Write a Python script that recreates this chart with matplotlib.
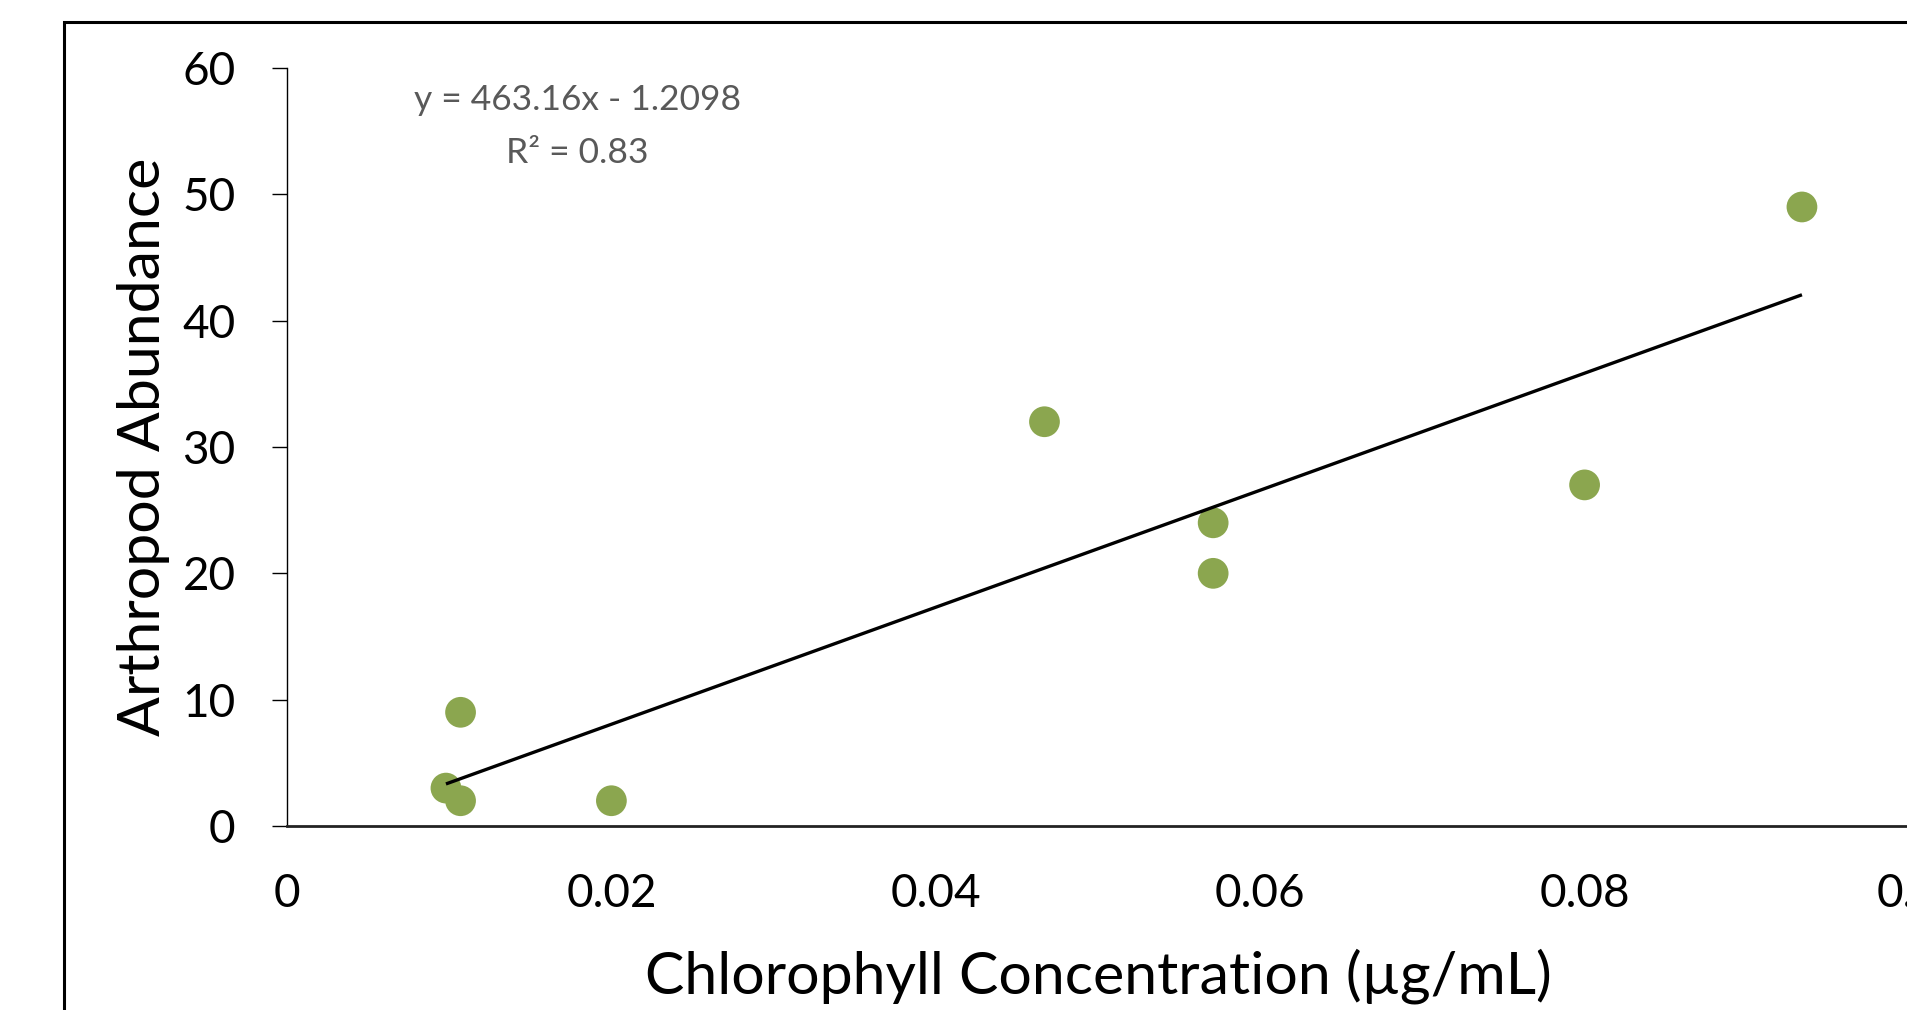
#!/usr/bin/env python3
"""
Scatter of arthropod abundance against chlorophyll concentration, with linear trend line
"""

import matplotlib
matplotlib.use('Agg')
import matplotlib.pyplot as plt
from matplotlib.patches import Rectangle
from matplotlib.ticker import FuncFormatter

# data
chlorophyll = [0.0098, 0.0107, 0.0107, 0.0200, 0.0467, 0.0571, 0.0571, 0.0800, 0.0934]
abundance = [3, 9, 2, 2, 32, 24, 20, 27, 49]
slope = 463.16
intercept = -1.2098
r_squared = 0.83
x_ticks = [0, 0.02, 0.04, 0.06, 0.08, 0.1]
y_ticks = [0, 10, 20, 30, 40, 50, 60]

plt.rcParams['font.family'] = ['Lato', 'DejaVu Sans']

W, H = 1908, 1010
fig = plt.figure(figsize=(W / 100, H / 100), dpi=100)
ax = fig.add_axes([287 / W, 184 / H, 1622 / W, 758 / H])

# outer chart-area border (runs off the right and bottom of the picture)
fig.add_artist(Rectangle((64 / W, -0.2), 2.0, 0.2 + (H - 22) / H,
                         transform=fig.transFigure, fill=False,
                         edgecolor='black', linewidth=2.2))

ax.scatter(chlorophyll, abundance, s=490, color='#8BA64F', edgecolors='none', zorder=2)

# linear trend line over the data range
x0, x1 = min(chlorophyll), max(chlorophyll)
ax.plot([x0, x1], [slope * x0 + intercept, slope * x1 + intercept],
        color='black', linewidth=2.4, zorder=3, solid_capstyle='butt')

ax.text(0.0179, 57.5, f'y = {slope}x - {abs(intercept)}', ha='center', va='center',
        fontsize=25.5, color='#595959')
ax.text(0.0179, 53.3, f'R² = {r_squared}', ha='center', va='center',
        fontsize=25.5, color='#595959')

ax.set_xlim(0, 0.1)
ax.set_ylim(0, 60)
ax.set_xticks(x_ticks)
ax.set_yticks(y_ticks)
ax.xaxis.set_major_formatter(FuncFormatter(lambda v, p: f'{v:g}'))

ax.spines['top'].set_visible(False)
ax.spines['right'].set_visible(False)
ax.spines['left'].set_linewidth(1.0)
ax.spines['bottom'].set_linewidth(2.0)
ax.spines['bottom'].set_color('#222222')

ax.tick_params(axis='y', direction='out', length=11, width=1.0, pad=26, labelsize=33)
ax.tick_params(axis='x', length=0, pad=34, labelsize=33)

ax.set_xlabel('Chlorophyll Concentration (µg/mL)', fontsize=42.5, va='center')
ax.set_ylabel('Arthropod Abundance', fontsize=42.5, va='center')
ax.xaxis.set_label_coords(0.5, -0.198)
ax.yaxis.set_label_coords((144 - 287) / 1622, 0.5)

fig.savefig('out.png', dpi=100)
plt.close(fig)
